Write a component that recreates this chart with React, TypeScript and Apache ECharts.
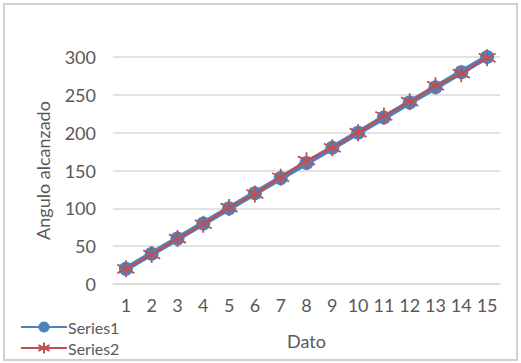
import React, { useEffect, useRef } from "react";
import * as echarts from "echarts";

const categories = ["1","2","3","4","5","6","7","8","9","10","11","12","13","14","15"];
const series1 = [20, 40, 60, 80, 100, 120, 140, 160, 180, 200, 220, 240, 260, 280, 300];
const series2 = [20, 39, 60, 79, 101, 119, 141, 163, 180, 200, 222, 241, 262, 278, 299];
const yTicks = { min: 0, max: 300, interval: 50 };

const STAR = "path://M10,0L10,20M1.34,5L18.66,15M1.34,15L18.66,5";

export default function App() {
  const ref = useRef<HTMLDivElement>(null);
  useEffect(() => {
    if (!ref.current) return;
    const chart = echarts.init(ref.current, undefined, { renderer: "svg" });
    const font = "Lato, 'Open Sans', sans-serif";
    chart.setOption({
      animation: false,
      backgroundColor: "#ffffff",
      textStyle: { fontFamily: font, color: "#595959" },
      graphic: [
        {
          type: "rect",
          left: 3,
          top: 3,
          z: 100,
          shape: { width: 513, height: 356 },
          style: { fill: "transparent", stroke: "#D0D0D0", lineWidth: 2 },
          silent: true,
        },
      ],
      grid: { left: 113, right: 21, top: 57, bottom: 79, containLabel: false },
      legend: {
        orient: "vertical",
        left: 20,
        top: 318,
        height: 44,
        padding: 0,
        itemWidth: 46,
        itemHeight: 14,
        itemGap: 3,
        textStyle: { fontFamily: font, fontSize: 16, lineHeight: 18, color: "#595959", padding: [0, 0, 0, -4] },
        data: ["Series1", "Series2"],
      },
      xAxis: {
        type: "category",
        data: categories,
        boundaryGap: true,
        name: "Dato",
        nameLocation: "middle",
        nameGap: 48,
        nameTextStyle: { fontFamily: font, fontSize: 18, color: "#595959" },
        axisLine: { show: true, lineStyle: { color: "#D9D9D9", width: 1.5 } },
        axisTick: { show: false },
        axisLabel: { interval: 0, fontFamily: font, fontSize: 18, color: "#595959", margin: 12 },
      },
      yAxis: {
        type: "value",
        min: yTicks.min,
        max: yTicks.max,
        interval: yTicks.interval,
        name: "Angulo alcanzado",
        nameLocation: "middle",
        nameGap: 61,
        nameTextStyle: { fontFamily: font, fontSize: 18, color: "#595959" },
        axisLine: { show: false },
        axisTick: { show: false },
        axisLabel: { fontFamily: font, fontSize: 18, color: "#595959", margin: 17 },
        splitLine: { lineStyle: { color: "#D9D9D9", width: 1.5 } },
      },
      series: [
        {
          name: "Series1",
          type: "line",
          data: series1,
          symbol: "circle",
          symbolSize: 14,
          lineStyle: { color: "#4F81BD", width: 5.5 },
          itemStyle: { color: "#4F81BD" },
          z: 2,
        },
        {
          name: "Series2",
          type: "line",
          data: series2,
          symbol: STAR,
          symbolSize: 17,
          lineStyle: { color: "#C0504D", width: 2.2 },
          itemStyle: { color: "#C0504D", borderColor: "#C0504D", borderWidth: 1.8 },
          z: 3,
        },
      ],
    });
    return () => chart.dispose();
  }, []);
  return (
    <div style={{ position: "fixed", left: 0, top: 0, width: 521, height: 363 }}>
      <div ref={ref} style={{ width: 521, height: 363 }} />
    </div>
  );
}
